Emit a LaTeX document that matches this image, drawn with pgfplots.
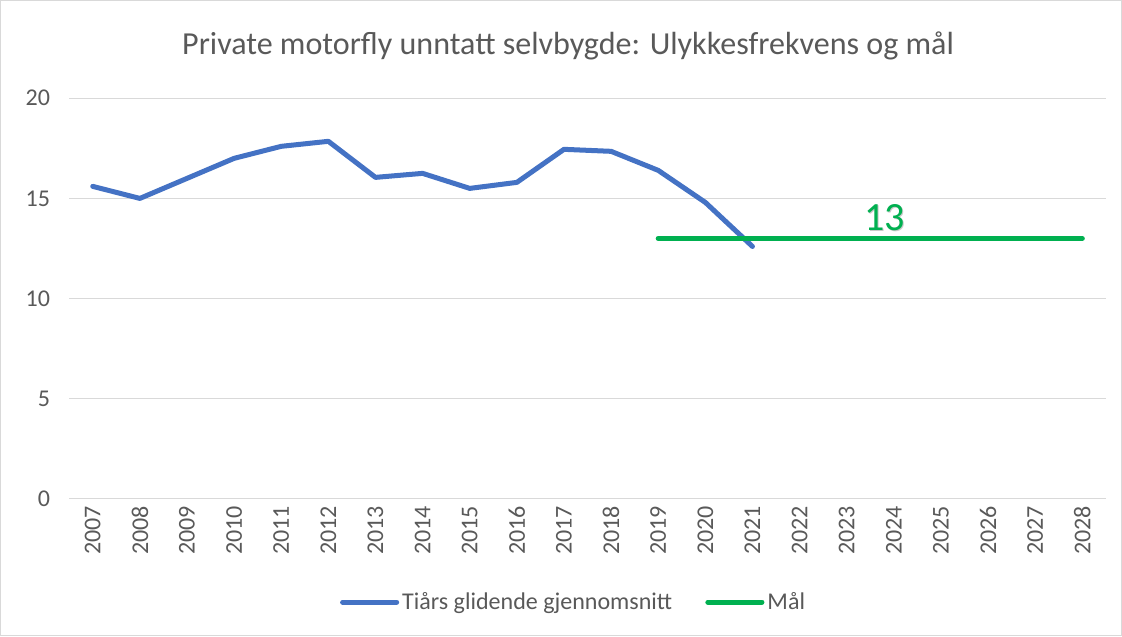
\documentclass[border=0pt]{standalone}
\usepackage{pgfplots}
\pgfplotsset{compat=1.18}
\usepackage{fontspec}
\setmainfont{Carlito}
\definecolor{cblue}{HTML}{4472C4}
\definecolor{cgreen}{HTML}{00B050}
\definecolor{cgrid}{HTML}{D9D9D9}
\definecolor{ctext}{HTML}{595959}
\begin{document}
\begin{tikzpicture}
\draw[cgrid, line width=0.6pt] (0.75pt,0.75pt) rectangle (560.25pt,317.75pt);
\node[text=ctext, font=\fontsize{16}{19}\selectfont] at (284pt,295pt) {Private motorfly unntatt selvbygde: Ulykkesfrekvens og mål};
\begin{axis}[
  at={(35pt,69pt)}, anchor=south west,
  scale only axis, width=517.5pt, height=200pt,
  xmin=-0.5, xmax=21.5, ymin=0, ymax=20,
  xtick={0,...,21},
  xticklabels={2007,2008,2009,2010,2011,2012,2013,2014,2015,2016,2017,2018,2019,2020,2021,2022,2023,2024,2025,2026,2027,2028},
  xticklabel style={rotate=90, anchor=east, font=\fontsize{12}{14}\selectfont, text=ctext},
  ytick={0,5,10,15,20},
  yticklabel style={font=\fontsize{12}{14}\selectfont, text=ctext, xshift=-6pt},
  /pgf/number format/assume math mode=true,
  ymajorgrids, grid style={cgrid, line width=0.5pt},
  axis line style={draw=none},
  axis x line*=bottom, axis y line*=left,
  major tick length=0pt,
  legend style={at={(0.487,-0.2575)}, anchor=center, draw=none, legend columns=2, font=\fontsize{12}{14}\selectfont, text=ctext, /tikz/every even column/.append style={column sep=15pt}, inner sep=0pt, nodes={inner sep=1.5pt}},
  legend image code/.code={\draw[#1, line cap=round] (0pt,0pt) -- (27pt,0pt);},
  clip=false,
]
\draw[cgrid, line width=0.6pt] (axis cs:-0.5,0) -- (axis cs:21.5,0);
\addplot[cblue, line width=2.5pt, line join=round, line cap=round] coordinates {
(0,15.6) (1,15.0) (2,16.0) (3,17.0) (4,17.6) (5,17.85) (6,16.05) (7,16.25) (8,15.5) (9,15.8) (10,17.45) (11,17.35) (12,16.4) (13,14.8) (14,12.6)
};
\addlegendentry{Tiårs glidende gjennomsnitt}
\addplot[cgreen, line width=2.5pt, line cap=round] coordinates {(12,13) (21,13)};
\addlegendentry{Mål}
\node[text=black!35, opacity=0.6, font=\fontsize{20}{22}\selectfont] at ([xshift=0.6pt,yshift=-0.6pt]axis cs:16.8,14.05) {13};
\node[text=cgreen, font=\fontsize{20}{22}\selectfont] at (axis cs:16.8,14.05) {13};
\end{axis}
\end{tikzpicture}
\end{document}
